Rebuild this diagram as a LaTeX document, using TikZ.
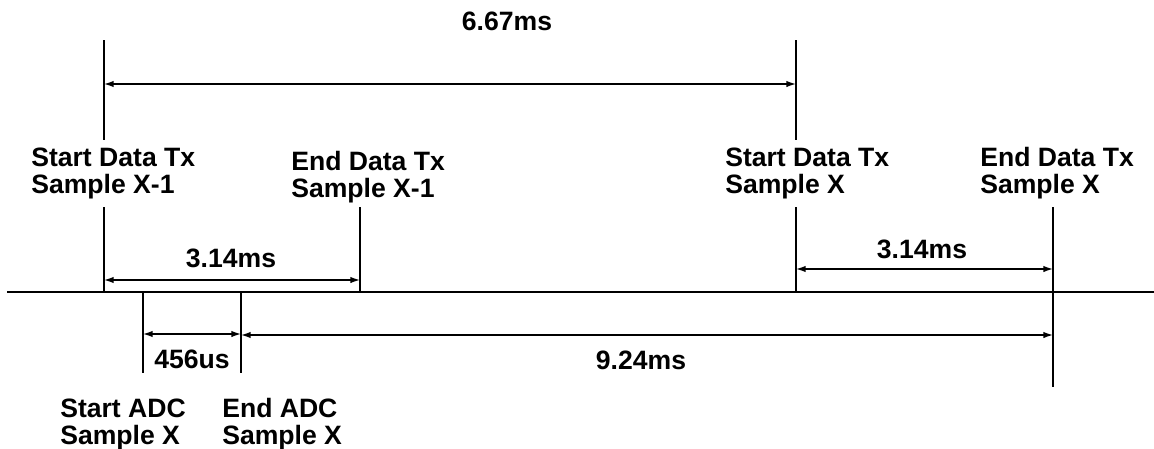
\documentclass[tikz,border=0pt]{standalone}
\usepackage{fontspec}
\setmainfont{Liberation Sans}
\usetikzlibrary{arrows.meta,positioning}

\begin{document}
\begin{tikzpicture}[
  x=0.025cm, y=-0.025cm,
  evt/.style={
    anchor=base west,
    align=left,
    inner sep=0pt,
    font=\bfseries\fontsize{18.9}{19.2}\selectfont
  },
  val/.style={anchor=base, inner sep=0pt, font=\bfseries\fontsize{18.9}{19.2}\selectfont},
  vline/.style={line width=1.4pt},
  dim/.style={{Latex[length=2.4mm,width=1.6mm]}-{Latex[length=2.4mm,width=1.6mm]}, line width=1pt}
]
\useasboundingbox (0,0) rectangle (1154,448);

% time axis and event positions on it
\coordinate (ax0) at (7,292);
\coordinate (ax1) at (1154,292);
\coordinate (txs1) at (104,292);
\coordinate (txe1) at (360,292);
\coordinate (txs2) at (796,292);
\coordinate (txe2) at (1053,292);
\coordinate (adcs) at (143,292);
\coordinate (adce) at (241,292);

\draw[vline] (ax0) -- (ax1);

% event markers
\draw[vline] (104,40) -- (104,140);
\draw[vline] (796,40) -- (796,140);
\draw[vline] (txs1) -- ++(0,-85);
\draw[vline] (txe1) -- ++(0,-85);
\draw[vline] (txs2) -- ++(0,-85);
\draw[vline] (txe2) -- ++(0,-85);
\draw[vline] (txe2) -- ++(0,95);
\draw[vline] (adcs) -- ++(0,81);
\draw[vline] (adce) -- ++(0,81);

% event labels (base = last line)
\node[evt] (ls1) at (31,193) {Start Data Tx\\Sample X-1};
\node[evt] (le1) at (291,197) {End Data Tx\\Sample X-1};
\node[evt] (ls2) at (725,193) {Start Data Tx\\Sample X};
\node[evt] (le2) at (980,193) {End Data Tx\\Sample X};
\node[evt] (las) at (60,444) {Start ADC\\Sample X};
\node[evt] (lae) at (222,444) {End ADC\\Sample X};

% dimension ends
\coordinate (p1a) at (104,84);
\coordinate (p1b) at (796,84);
\coordinate (t1a) at (104,280);
\coordinate (t1b) at (360,280);
\coordinate (t2a) at (796,269);
\coordinate (t2b) at (1053,269);
\coordinate (c1a) at (143,334);
\coordinate (c1b) at (241,334);
\coordinate (w1a) at (241,335);
\coordinate (w1b) at (1053,335);

\draw[dim] (p1a) -- (p1b);
\draw[dim] (t1a) -- (t1b);
\draw[dim] (t2a) -- (t2b);
\draw[dim] (c1a) -- (c1b);
\draw[dim] (w1a) -- (w1b);

\node[val] (period) at (507,30) {6.67ms};
\node[val] (tx1) at (231,267) {3.14ms};
\node[val] (tx2) at (922,258) {3.14ms};
\node[val] (conv) at (192,368) {456us};
\node[val] (wait) at (641,369) {9.24ms};

\end{tikzpicture}
\end{document}
